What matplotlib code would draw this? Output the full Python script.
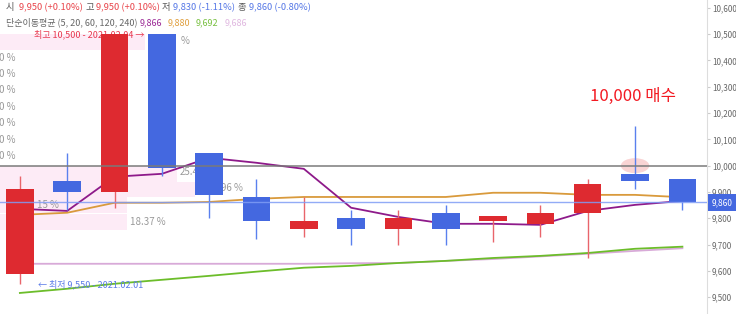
"""Daily candle chart with simple moving averages and drawing overlays."""

import matplotlib

matplotlib.use("Agg")
import matplotlib.pyplot as plt
from matplotlib.patches import Ellipse, Rectangle
from matplotlib.transforms import blended_transform_factory

plt.rcParams["font.family"] = ["Noto Sans CJK KR", "DejaVu Sans"]

# candles (2021.02.01 ...)
opens = [9590, 9940, 9900, 10500, 10050, 9880, 9760, 9800, 9760, 9820, 9790, 9780, 9820, 9970, 9950]
closes = [9910, 9900, 10500, 9990, 9890, 9790, 9790, 9760, 9800, 9760, 9810, 9820, 9930, 9940, 9860]
highs = [9960, 10050, 10500, 10500, 10050, 9950, 9880, 9830, 9830, 9850, 9810, 9850, 9950, 10150, 9950]
lows = [9550, 9830, 9840, 9960, 9800, 9720, 9730, 9700, 9700, 9700, 9710, 9730, 9650, 9910, 9830]

# simple moving averages
ma5 = [9836, 9828, 9958, 9969, 10030, 10011, 9988, 9840, 9805, 9779, 9779, 9775, 9828, 9851, 9866]
ma20 = [9813, 9821, 9859, 9859, 9862, 9874, 9881, 9881, 9881, 9881, 9897, 9897, 9889, 9889, 9880]
ma60 = [9516, 9532, 9551, 9566, 9581, 9597, 9612, 9619, 9630, 9638, 9649, 9657, 9668, 9684, 9692]
ma120 = [9627, 9627, 9627, 9627, 9627, 9627, 9627, 9629, 9630, 9638, 9645, 9655, 9665, 9676, 9686]

# retracement drawing: bands (top, bottom, right end in candle index)
band_tops = [10500, 10000, 9938, 9882, 9815]
band_bottoms = [10440, 9938, 9882, 9820, 9756]
band_ends = [2.64, 3.32, 3.70, 2.26, 2.26]
level_labels = ["%", "25.4", "96 %", "15 %", "18.37 %"]
level_label_x = [3.40, 3.38, 4.25, 0.36, 2.33]
level_label_y = [10475, 9976, 9916, 9851, 9786]
cut_label_y = [10410, 10349, 10288, 10224, 10163, 10098, 10037]

last_price = 9860
ref_price = 10000
y_ticks = list(range(9500, 10601, 100))

RED = "#de2a30"
BLUE = "#4468e0"
RED_WICK = "#e9656b"
BLUE_WICK = "#5a80ee"


def main():
    fig = plt.figure(figsize=(7.36, 3.14), dpi=100)
    ax = fig.add_axes([0, 0, 707 / 736, 1])
    ax.set_xlim(-0.42, 14.52)
    ax.set_ylim(9436, 10630)

    idx = list(range(len(opens)))

    # drawing bands and labels
    for top, bot, end in zip(band_tops, band_bottoms, band_ends):
        ax.add_patch(Rectangle((-0.42, bot), end + 0.42, top - bot,
                               facecolor="#fdebf6", edgecolor="none", zorder=0.5))
    for txt, x, y in zip(level_labels, level_label_x, level_label_y):
        ax.text(x, y, txt, fontsize=7, color="#999999", va="center", ha="left", zorder=1)
    for y in cut_label_y:
        ax.text(-0.44, y, "0 %", fontsize=7, color="#999999", va="center", ha="left", zorder=1)

    # moving averages
    ax.plot(idx, ma120, color="#d8aad8", lw=1.3, zorder=2)
    ax.plot(idx, ma60, color="#6cbd2a", lw=1.3, zorder=2)
    ax.plot(idx, ma20, color="#d99a3c", lw=1.3, zorder=2)
    ax.plot(idx, ma5, color="#8e1a8a", lw=1.3, zorder=2)

    ax.add_patch(Ellipse((13, ref_price), 0.6, 57, facecolor="#f2a0a0",
                         alpha=0.45, edgecolor="none", zorder=2.5))

    # candles
    for i, o, c, h, l in zip(idx, opens, closes, highs, lows):
        up = c >= o
        ax.vlines(i, l, h, color=RED_WICK if up else BLUE_WICK, lw=1, zorder=3)
        ax.bar(i, abs(c - o), bottom=min(o, c), width=0.58,
               color=RED if up else BLUE, edgecolor="none", zorder=3.5)

    ax.axhline(ref_price, color="#7a7a7a", lw=1.1, zorder=4)
    ax.axhline(last_price, color="#7f9cf5", lw=1, alpha=0.85, zorder=4)

    # high / low annotations
    hi = highs.index(max(highs))
    lo = lows.index(min(lows))
    ax.text(hi + 1 - 0.36, max(highs), "최고 10,500 - 2021.02.04 →", fontsize=6.5,
            color="#e8384f", ha="right", va="center", zorder=3.2)
    ax.text(lo + 0.38, min(lows), "← 최저 9,550 - 2021.02.01", fontsize=6.5,
            color="#5b7be8", ha="left", va="center", zorder=3.2)

    ax.text(12.05, 10262, "10,000 매수", fontsize=12, color="#f31a22",
            ha="left", va="center", zorder=5)

    # right price axis
    for side in ("top", "left", "bottom"):
        ax.spines[side].set_visible(False)
    ax.spines["right"].set_color("#dddddd")
    ax.set_xticks([])
    ax.yaxis.tick_right()
    ax.set_yticks(y_ticks)
    ax.set_yticklabels([f"{v:,}" for v in y_ticks])
    ax.tick_params(axis="y", length=2.5, color="#cccccc", labelcolor="#666666",
                   labelsize=5.8, pad=1)

    tr = blended_transform_factory(fig.transFigure, ax.transData)
    ax.add_patch(Rectangle((708 / 736, last_price - 33), 28 / 736, 66, transform=tr,
                           facecolor="#4468e0", edgecolor="none", clip_on=False, zorder=10))
    ax.text(722 / 736, last_price, f"{last_price:,}", transform=tr, fontsize=6,
            color="white", ha="center", va="center", clip_on=False, zorder=11)

    # header
    def head(x, y, s, color, size):
        fig.text(x / 736, 1 - y / 314, s, fontsize=size, color=color, ha="left", va="center")

    row1 = [(6, "시", "#555555"), (19, "9,950 (+0.10%)", "#e8444a"),
            (85, "고", "#555555"), (96, "9,950 (+0.10%)", "#e8444a"),
            (162, "저", "#555555"), (173, "9,830 (-1.11%)", "#5577e6"),
            (238, "종", "#555555"), (249, "9,860 (-0.80%)", "#5577e6")]
    row2 = [(6, "단순이동평균 (5, 20, 60, 120, 240)", "#666666"), (140, "9,866", "#9b2a96"),
            (168, "9,880", "#e0a040"), (196, "9,692", "#78c040"), (225, "9,686", "#e0b8e0")]
    for x, s, col in row1:
        head(x, 7.5, s, col, 6.7)
    for x, s, col in row2:
        head(x, 22.5, s, col, 6.5)

    fig.savefig("out.png", dpi=100)


if __name__ == "__main__":
    main()
